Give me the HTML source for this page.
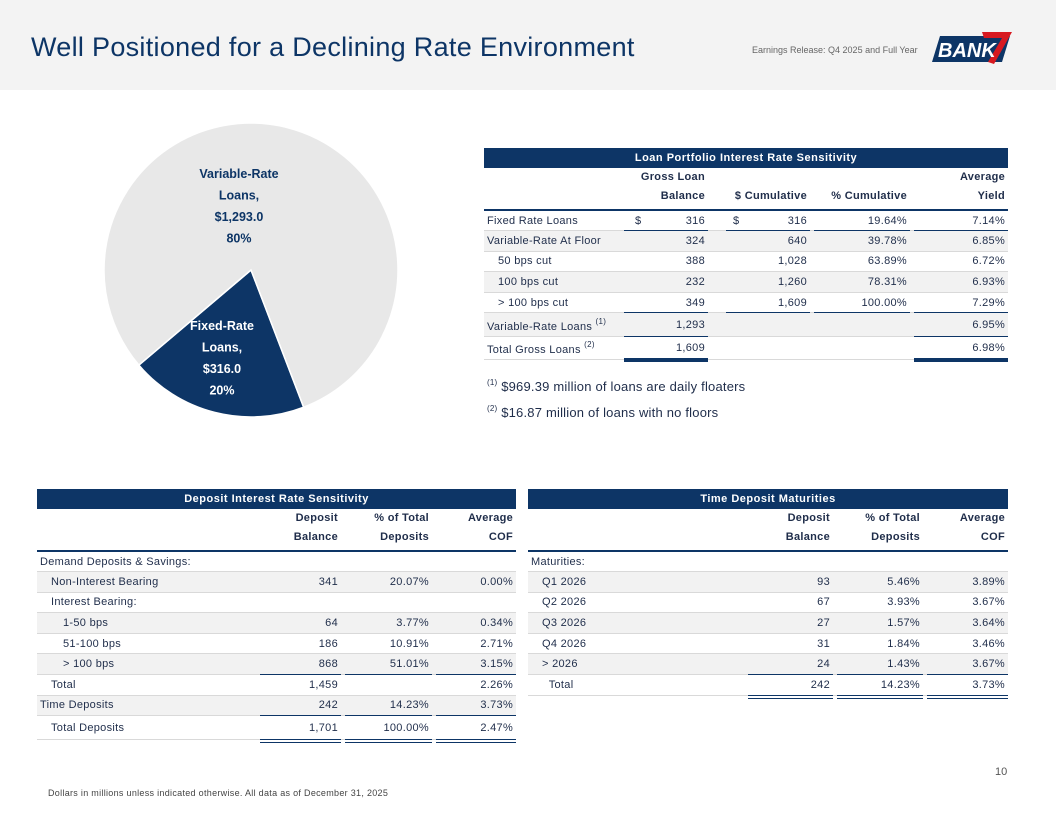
<!DOCTYPE html>
<html><head><meta charset="utf-8">
<style>
*{margin:0;padding:0;box-sizing:border-box}
body{width:1056px;height:816px;background:#fff;position:relative;overflow:hidden;font-family:"Liberation Sans",sans-serif;color:#1f2d4a}
#hdr{position:absolute;left:0;top:0;width:1056px;height:90px;background:#f3f3f3}
#title{position:absolute;left:31px;top:32px;font-size:27px;color:#0d3566;letter-spacing:0.3px}
#sub{position:absolute;left:752px;top:45px;font-size:9px;color:#666}
#logo{position:absolute;left:932px;top:30px}
table{position:absolute;border-collapse:collapse;table-layout:fixed;font-size:11px;color:#1f2d4a;letter-spacing:0.3px}
td{height:20.6px;padding:0 3px;white-space:nowrap;border-bottom:1px solid #d9d9d9}
th{font-weight:bold;text-align:right;vertical-align:bottom;padding:0 3px 3px;line-height:19px;border-bottom:2px solid #0d3566}
.cap{background:#0d3566;color:#fff;font-weight:bold;text-align:center;height:20px;border:none;padding:0;font-size:11px;vertical-align:middle;line-height:20px;letter-spacing:0.5px}
.r{text-align:right}
.g td{background:#f2f2f2}
.u{position:relative}
.u::after{content:"";position:absolute;left:4px;right:0;bottom:-1px;border-bottom:1.5px solid #0d3566}
.d{position:relative}
.d::after{content:"";position:absolute;left:4px;right:0;bottom:-4px;height:2px;border-top:1px solid #0d3566;border-bottom:1px solid #0d3566}
.dt{position:relative}
.dt::after{content:"";position:absolute;left:4px;right:0;bottom:-3px;height:4px;background:#0d3566}
.i1{padding-left:14px}.i2{padding-left:26px}
sup{font-size:8px;vertical-align:6px}
.fn{position:absolute;left:487px;font-size:13px;color:#1f2d4a;letter-spacing:0.2px}
</style></head><body>
<div id="hdr"></div>
<div id="title">Well Positioned for a Declining Rate Environment</div>
<div id="sub">Earnings Release: Q4 2025 and Full Year</div>
<svg id="logo" width="80" height="36">
<polygon points="8,6 78,6 70,32 0,32" fill="#0d3566"/>
<polygon points="50,2 80,2 62,34 56,32 70,8 52,8" fill="#d71920"/>
<text x="6" y="27" font-family="Liberation Sans" font-weight="bold" font-style="italic" font-size="20" fill="#fff">BANK</text>
</svg>

<svg width="420" height="340" style="position:absolute;left:0;top:100px">
<g id="pie"></g>
</svg>

<table style="left:484px;top:148px;width:524px">
<colgroup><col style="width:136px"><col style="width:88px"><col style="width:14px"><col style="width:88px"><col style="width:100px"><col style="width:98px"></colgroup>
<tr><td colspan="6" class="cap">Loan Portfolio Interest Rate Sensitivity</td></tr>
<tr><th></th><th>Gross Loan<br>Balance</th><th></th><th>$ Cumulative</th><th>% Cumulative</th><th>Average<br>Yield</th></tr>
<tr><td>Fixed Rate Loans</td><td class="r u"><span style="float:left;padding-left:12px">$</span>316</td><td></td><td class="r u"><span style="float:left;padding-left:8px">$</span>316</td><td class="r u">19.64%</td><td class="r u">7.14%</td></tr>
<tr class="g"><td>Variable-Rate At Floor</td><td class="r">324</td><td></td><td class="r">640</td><td class="r">39.78%</td><td class="r">6.85%</td></tr>
<tr><td class="i1">50 bps cut</td><td class="r">388</td><td></td><td class="r">1,028</td><td class="r">63.89%</td><td class="r">6.72%</td></tr>
<tr class="g"><td class="i1">100 bps cut</td><td class="r">232</td><td></td><td class="r">1,260</td><td class="r">78.31%</td><td class="r">6.93%</td></tr>
<tr><td class="i1">&gt; 100 bps cut</td><td class="r u">349</td><td></td><td class="r u">1,609</td><td class="r u">100.00%</td><td class="r u">7.29%</td></tr>
<tr class="g"><td style="height:24px">Variable-Rate Loans <sup>(1)</sup></td><td class="r u">1,293</td><td></td><td></td><td></td><td class="r u">6.95%</td></tr>
<tr><td style="height:23px">Total Gross Loans <sup>(2)</sup></td><td class="r dt">1,609</td><td></td><td></td><td></td><td class="r dt">6.98%</td></tr>
</table>
<div class="fn" style="top:378px"><sup>(1)</sup> $969.39 million of loans are daily floaters</div>
<div class="fn" style="top:404px"><sup>(2)</sup> $16.87 million of loans with no floors</div>

<table style="left:37px;top:489px;width:479px">
<colgroup><col style="width:219px"><col style="width:85px"><col style="width:91px"><col style="width:84px"></colgroup>
<tr><td colspan="4" class="cap">Deposit Interest Rate Sensitivity</td></tr>
<tr><th></th><th>Deposit<br>Balance</th><th>% of Total<br>Deposits</th><th>Average<br>COF</th></tr>
<tr><td>Demand Deposits &amp; Savings:</td><td></td><td></td><td></td></tr>
<tr class="g"><td class="i1">Non-Interest Bearing</td><td class="r">341</td><td class="r">20.07%</td><td class="r">0.00%</td></tr>
<tr><td class="i1">Interest Bearing:</td><td></td><td></td><td></td></tr>
<tr class="g"><td class="i2">1-50 bps</td><td class="r">64</td><td class="r">3.77%</td><td class="r">0.34%</td></tr>
<tr><td class="i2">51-100 bps</td><td class="r">186</td><td class="r">10.91%</td><td class="r">2.71%</td></tr>
<tr class="g"><td class="i2">&gt; 100 bps</td><td class="r u">868</td><td class="r u">51.01%</td><td class="r u">3.15%</td></tr>
<tr><td class="i1">Total</td><td class="r">1,459</td><td></td><td class="r">2.26%</td></tr>
<tr class="g"><td>Time Deposits</td><td class="r u">242</td><td class="r u">14.23%</td><td class="r u">3.73%</td></tr>
<tr><td class="i1" style="height:24px">Total Deposits</td><td class="r d">1,701</td><td class="r d">100.00%</td><td class="r d">2.47%</td></tr>
</table>

<table style="left:528px;top:489px;width:480px">
<colgroup><col style="width:216px"><col style="width:89px"><col style="width:90px"><col style="width:85px"></colgroup>
<tr><td colspan="4" class="cap">Time Deposit Maturities</td></tr>
<tr><th></th><th>Deposit<br>Balance</th><th>% of Total<br>Deposits</th><th>Average<br>COF</th></tr>
<tr><td>Maturities:</td><td></td><td></td><td></td></tr>
<tr class="g"><td class="i1">Q1 2026</td><td class="r">93</td><td class="r">5.46%</td><td class="r">3.89%</td></tr>
<tr><td class="i1">Q2 2026</td><td class="r">67</td><td class="r">3.93%</td><td class="r">3.67%</td></tr>
<tr class="g"><td class="i1">Q3 2026</td><td class="r">27</td><td class="r">1.57%</td><td class="r">3.64%</td></tr>
<tr><td class="i1">Q4 2026</td><td class="r">31</td><td class="r">1.84%</td><td class="r">3.46%</td></tr>
<tr class="g"><td class="i1">&gt; 2026</td><td class="r u">24</td><td class="r u">1.43%</td><td class="r u">3.67%</td></tr>
<tr><td class="i1">&nbsp;&nbsp;Total</td><td class="r d">242</td><td class="r d">14.23%</td><td class="r d">3.73%</td></tr>
</table>

<div style="position:absolute;left:995px;top:766px;font-size:11px;color:#555">10</div>
<div style="position:absolute;left:48px;top:788px;font-size:9px;letter-spacing:0.3px;color:#444">Dollars in millions unless indicated otherwise. All data as of December 31, 2025</div>

<script>
const sliceNames=["Fixed-Rate Loans","Variable-Rate Loans"];
const sliceValues=[316.0,1293.0];
const sliceLabels=["$316.0","$1,293.0"];
const cx=251,cy=170,r=147,startDeg=159;
const colors=["#0d3566","#e8e8e8"];
const g=document.getElementById('pie');
const total=sliceValues.reduce((a,b)=>a+b,0);
function pt(deg,rad){const a=(deg-90)*Math.PI/180;return [cx+rad*Math.cos(a),cy+rad*Math.sin(a)];}
let a0=startDeg;
const ns="http://www.w3.org/2000/svg";
sliceValues.forEach((v,i)=>{
  const sweep=v/total*360,a1=a0+sweep;
  const p0=pt(a0,r),p1=pt(a1,r);
  const path=document.createElementNS(ns,'path');
  path.setAttribute('d',`M${cx},${cy}L${p0[0]},${p0[1]}A${r},${r} 0 ${sweep>180?1:0} 1 ${p1[0]},${p1[1]}Z`);
  path.setAttribute('fill',colors[i]);path.setAttribute('stroke','#fff');path.setAttribute('stroke-width','1.5');
  
  
  g.appendChild(path);
  a0=a1;
});
const lab=[{x:222,y:230,c:"#fff",lines:["Fixed-Rate","Loans,",sliceLabels[0],Math.round(sliceValues[0]/total*100)+"%"]},
           {x:239,y:78,c:"#0d3566",lines:["Variable-Rate","Loans,",sliceLabels[1],Math.round(sliceValues[1]/total*100)+"%"]}];
lab.forEach((l,i)=>{
  const t=document.createElementNS(ns,'text');
  t.setAttribute('text-anchor','middle');t.setAttribute('font-family','Liberation Sans');t.setAttribute('font-weight','bold');t.setAttribute('font-size','12.5');t.setAttribute('fill',l.c);
  
  
  l.lines.forEach((s,j)=>{const ts=document.createElementNS(ns,'tspan');ts.setAttribute('x',l.x);ts.setAttribute('y',l.y+j*21.5);ts.textContent=s;t.appendChild(ts);});
  g.appendChild(t);
});
</script>
</body></html>
